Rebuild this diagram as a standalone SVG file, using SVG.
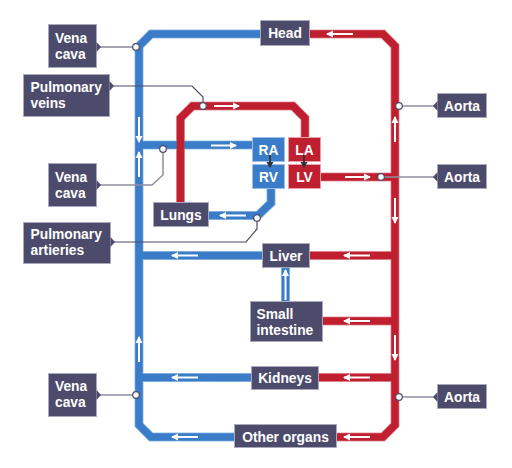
<svg xmlns="http://www.w3.org/2000/svg" width="512" height="468" viewBox="0 0 512 468">
<defs>
<marker id="ah" markerUnits="userSpaceOnUse" markerWidth="8" markerHeight="8" refX="6" refY="4" orient="auto">
<path d="M0,0.5 L7,4 L0,7.5 z" fill="#fff"/>
</marker>
<style>
.bu{fill:none;stroke:#3a7cc8;stroke-width:7.5;stroke-linejoin:miter}
.re{fill:none;stroke:#c01f2f;stroke-width:7.5;stroke-linejoin:miter}
.bul{fill:none;stroke:#9cc0e8;stroke-width:9}
.rel{fill:none;stroke:#e6a0a8;stroke-width:9}
.fl{stroke:#fff;stroke-width:2;fill:none;marker-end:url(#ah)}
.box{fill:#4d4b6b;stroke:#a9a8bd;stroke-width:1}
.hb{fill:#3a7cc8;stroke:#9cc0e8;stroke-width:1}
.hr{fill:#c01f2f;stroke:#e6a0a8;stroke-width:1}
.t{font-family:"Liberation Sans",Arial,sans-serif;font-weight:bold;font-size:13.8px;fill:#fff}
.c{text-anchor:middle}
.ld{fill:none;stroke:#4d4b6b;stroke-width:1.2}
.lg{fill:none;stroke:#8f8ea5;stroke-width:1.5}
.dot{fill:#fff;stroke:#4d4b6b;stroke-width:1.2}
</style>
</defs>
<rect width="512" height="468" fill="#fff"/>
<g id="connectors">
<g id="under">
<polyline class="bul" points="262,34 151,34 139,46 139,425 151,437 236,437"/>
<line class="bul" x1="139" y1="145" x2="253" y2="145"/>
<line class="bul" x1="139" y1="255.5" x2="263" y2="255.5"/>
<line class="bul" x1="139" y1="377.5" x2="252" y2="377.5"/>
<line class="bul" x1="285.5" y1="302" x2="285.5" y2="267"/>
<polyline class="bul" points="208,215.5 258,215.5 271,203 271,188"/>
<polyline class="rel" points="308,34 383,34 395,46 395,425 383,437 336,437"/>
<line class="rel" x1="320" y1="177" x2="395" y2="177"/>
<line class="rel" x1="309" y1="255.5" x2="395" y2="255.5"/>
<line class="rel" x1="322" y1="321" x2="395" y2="321"/>
<line class="rel" x1="318" y1="377.5" x2="395" y2="377.5"/>
<polyline class="rel" points="180.5,204 180.5,118 192.5,106 293,106 305,118 305,138"/>
</g>
<g id="pipes">
<polyline class="bu" points="262,34 151,34 139,46 139,425 151,437 236,437"/>
<line class="bu" x1="139" y1="145" x2="253" y2="145"/>
<line class="bu" x1="139" y1="255.5" x2="263" y2="255.5"/>
<line class="bu" x1="139" y1="377.5" x2="252" y2="377.5"/>
<line class="bu" x1="285.5" y1="302" x2="285.5" y2="267"/>
<polyline class="bu" points="208,215.5 258,215.5 271,203 271,188"/>
<polyline class="re" points="308,34 383,34 395,46 395,425 383,437 336,437"/>
<line class="re" x1="320" y1="177" x2="395" y2="177"/>
<line class="re" x1="309" y1="255.5" x2="395" y2="255.5"/>
<line class="re" x1="322" y1="321" x2="395" y2="321"/>
<line class="re" x1="318" y1="377.5" x2="395" y2="377.5"/>
<polyline class="re" points="180.5,204 180.5,118 192.5,106 293,106 305,118 305,138"/>
</g>
<g id="flow">
<line class="fl" x1="139" y1="117" x2="139" y2="142"/>
<line class="fl" x1="139" y1="177" x2="139" y2="152"/>
<line class="fl" x1="139" y1="362" x2="139" y2="337"/>
<line class="fl" x1="211" y1="145.5" x2="236" y2="145.5"/>
<line class="fl" x1="246" y1="215.5" x2="220" y2="215.5"/>
<line class="fl" x1="198" y1="255.5" x2="172" y2="255.5"/>
<line class="fl" x1="285.5" y1="300" x2="285.5" y2="270"/>
<line class="fl" x1="198" y1="377.5" x2="172" y2="377.5"/>
<line class="fl" x1="198" y1="437" x2="172" y2="437"/>
<line class="fl" x1="353" y1="34" x2="327" y2="34"/>
<line class="fl" x1="214" y1="106" x2="239" y2="106"/>
<line class="fl" x1="345" y1="177" x2="370" y2="177"/>
<line class="fl" x1="395" y1="142" x2="395" y2="117"/>
<line class="fl" x1="395" y1="198" x2="395" y2="223"/>
<line class="fl" x1="370" y1="255.5" x2="344" y2="255.5"/>
<line class="fl" x1="370" y1="321" x2="344" y2="321"/>
<line class="fl" x1="395" y1="335" x2="395" y2="360"/>
<line class="fl" x1="370" y1="377.5" x2="344" y2="377.5"/>
<line class="fl" x1="370" y1="437" x2="344" y2="437"/>
</g>
<g id="leaders">
<polyline class="ld" points="100,47 136,47"/>
<polyline class="ld" points="113,86 192,86 203,97 203,106"/>
<polyline class="lg" points="100,185 152,185 163,175 163,149"/>
<polyline class="ld" points="113,242 246,242 257,229 257,218"/>
<polyline class="lg" points="100,395 136,395"/>
<polyline class="lg" points="434,106 399,106"/>
<polyline class="lg" points="434,177 381,177"/>
<polyline class="lg" points="434,397 399,397"/>
<circle class="dot" cx="136" cy="47" r="3.3"/>
<circle class="dot" cx="203" cy="106" r="3.3"/>
<circle class="dot" cx="163" cy="149" r="3.3"/>
<circle class="dot" cx="257" cy="218" r="3.3"/>
<circle class="dot" cx="136" cy="395" r="3.3"/>
<circle class="dot" cx="399" cy="106" r="3.3"/>
<circle class="dot" cx="381" cy="177" r="3.3"/>
<circle class="dot" cx="399" cy="397" r="3.3"/>
</g>
</g>
<g id="head"><rect class="box" x="260.5" y="20.5" width="49" height="25"/><text class="t c" x="285" y="37.5">Head</text></g>
<g id="ra"><rect class="hb" x="252.5" y="137.5" width="32" height="24"/><text class="t c" x="268.5" y="154.5">RA</text></g>
<g id="rv"><rect class="hb" x="252.5" y="164.5" width="32" height="24"/><text class="t c" x="268.5" y="181.5">RV</text></g>
<g id="la"><rect class="hr" x="288.5" y="137.5" width="32" height="24"/><text class="t c" x="304.5" y="154.5">LA</text></g>
<g id="lv"><rect class="hr" x="288.5" y="164.5" width="32" height="24"/><text class="t c" x="304.5" y="181.5">LV</text></g>
<g id="heart-arrows">
<line x1="270" y1="155" x2="270" y2="163" stroke="#333" stroke-width="1.8"/>
<path d="M266.5,162 L273.5,162 L270,168 z" fill="#333"/>
<line x1="304" y1="155" x2="304" y2="163" stroke="#333" stroke-width="1.8"/>
<path d="M300.5,162 L307.5,162 L304,168 z" fill="#333"/>
</g>
<g id="lungs"><rect class="box" x="153.5" y="202.5" width="55" height="24"/><text class="t c" x="181" y="219.5">Lungs</text></g>
<g id="liver"><rect class="box" x="262.5" y="243.5" width="47" height="24"/><text class="t c" x="286" y="260.5">Liver</text></g>
<g id="small-intestine"><rect class="box" x="250.5" y="301.5" width="72" height="40"/><text class="t" x="256.5" y="318.5">Small</text><text class="t" x="256.5" y="334.5">intestine</text></g>
<g id="kidneys"><rect class="box" x="251.5" y="366.5" width="67" height="23"/><text class="t c" x="285" y="382.5">Kidneys</text></g>
<g id="other-organs"><rect class="box" x="234.5" y="424.5" width="102" height="23"/><text class="t c" x="285.5" y="441.5">Other organs</text></g>
<g id="vena-cava-1"><rect class="box" x="48.5" y="24.5" width="48" height="43"/><path d="M96.5,42 L101,47 L96.5,52 z" fill="#4d4b6b"/><text class="t" x="55" y="42.5">Vena</text><text class="t" x="55" y="58.5">cava</text></g>
<g id="pulmonary-veins"><rect class="box" x="23.5" y="74.5" width="86" height="42"/><path d="M109.5,81 L114,86 L109.5,91 z" fill="#4d4b6b"/><text class="t" x="30.5" y="91.5">Pulmonary</text><text class="t" x="30.5" y="107.5">veins</text></g>
<g id="vena-cava-2"><rect class="box" x="48.5" y="163.5" width="48" height="43"/><path d="M96.5,180 L101,185 L96.5,190 z" fill="#4d4b6b"/><text class="t" x="55" y="181.5">Vena</text><text class="t" x="55" y="197.5">cava</text></g>
<g id="pulmonary-arteries"><rect class="box" x="23.5" y="222.5" width="87" height="41"/><path d="M110.5,237 L115,242 L110.5,247 z" fill="#4d4b6b"/><text class="t" x="30.5" y="238.5">Pulmonary</text><text class="t" x="30.5" y="254.5">artieries</text></g>
<g id="vena-cava-3"><rect class="box" x="48.5" y="373.5" width="48" height="43"/><path d="M96.5,390 L101,395 L96.5,400 z" fill="#4d4b6b"/><text class="t" x="55" y="390.5">Vena</text><text class="t" x="55" y="406.5">cava</text></g>
<g id="aorta-1"><rect class="box" x="437.5" y="93.5" width="49" height="24"/><path d="M437.5,101 L433,106 L437.5,111 z" fill="#4d4b6b"/><text class="t c" x="462" y="111">Aorta</text></g>
<g id="aorta-2"><rect class="box" x="437.5" y="164.5" width="49" height="24"/><path d="M437.5,172 L433,177 L437.5,182 z" fill="#4d4b6b"/><text class="t c" x="462" y="181.5">Aorta</text></g>
<g id="aorta-3"><rect class="box" x="437.5" y="384.5" width="49" height="24"/><path d="M437.5,392 L433,397 L437.5,402 z" fill="#4d4b6b"/><text class="t c" x="462" y="401.5">Aorta</text></g>
</svg>
